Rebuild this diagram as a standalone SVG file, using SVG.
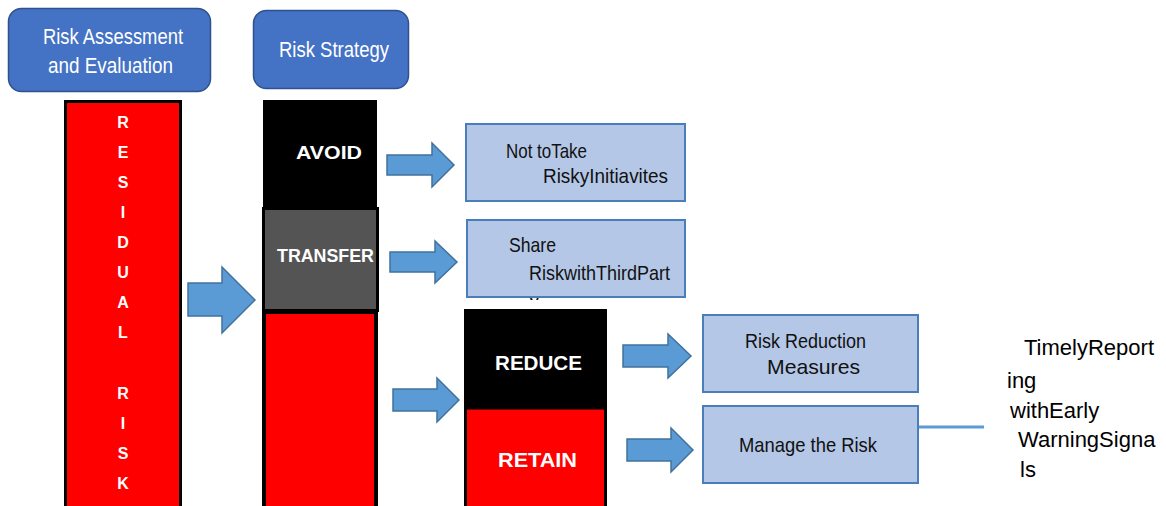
<svg xmlns="http://www.w3.org/2000/svg" width="1166" height="506" viewBox="0 0 1166 506">
<style>
.hdr{fill:#4472C4;stroke:#2F528F;stroke-width:1.5}
.hdrt{fill:#fff;font-family:"Liberation Sans Narrow","Liberation Sans",Arial,sans-serif;font-size:22px}
.lt{fill:#B4C7E7;stroke:#4A7EBB;stroke-width:2}
.ltt{fill:#111;font-family:"Liberation Sans Narrow","Liberation Sans",Arial,sans-serif;font-size:21px}
.bw{fill:#fff;font-family:"Liberation Sans",Arial,sans-serif;font-weight:bold}
.arr{fill:#5B9BD5;stroke:#41719C;stroke-width:1.5;stroke-linejoin:miter}
.res{fill:#fff;font-family:"Liberation Sans",Arial,sans-serif;font-weight:bold;font-size:16px;text-anchor:middle}
.plain{fill:#000;font-family:"Liberation Sans",Arial,sans-serif;font-size:22px}
</style>
<defs>
<clipPath id="yclip"><rect x="515" y="295" width="40" height="5"/></clipPath>
</defs>
<rect width="1166" height="506" fill="#fff"/>

<g id="hdr-assess">
<rect class="hdr" x="8.5" y="8.5" width="202" height="83" rx="13"/>
<text class="hdrt" x="43" y="44" textLength="140" lengthAdjust="spacingAndGlyphs">Risk Assessment</text>
<text class="hdrt" x="48" y="73" textLength="125" lengthAdjust="spacingAndGlyphs">and Evaluation</text>
</g>

<g id="hdr-strategy">
<rect class="hdr" x="253.5" y="10.5" width="155" height="78" rx="13"/>
<text class="hdrt" x="279" y="57" textLength="110" lengthAdjust="spacingAndGlyphs">Risk Strategy</text>
</g>

<g id="residual-risk">
<rect x="65.5" y="101.5" width="115" height="420" fill="#FF0000" stroke="#000" stroke-width="3"/>
<text class="res" x="123" y="128">R</text>
<text class="res" x="123" y="158">E</text>
<text class="res" x="123" y="188">S</text>
<text class="res" x="123" y="218">I</text>
<text class="res" x="123" y="248">D</text>
<text class="res" x="123" y="278">U</text>
<text class="res" x="123" y="308">A</text>
<text class="res" x="123" y="338">L</text>
<text class="res" x="123" y="399">R</text>
<text class="res" x="123" y="429">I</text>
<text class="res" x="123" y="459">S</text>
<text class="res" x="123" y="489">K</text>
</g>

<g id="avoid">
<rect x="263" y="100" width="114" height="108" fill="#000"/>
<text class="bw" x="296" y="159" font-size="19" textLength="66" lengthAdjust="spacingAndGlyphs">AVOID</text>
</g>

<g id="transfer">
<rect x="263.5" y="208.5" width="114" height="102" fill="#545454" stroke="#000" stroke-width="3"/>
<text class="bw" x="277" y="262" font-size="19" textLength="97" lengthAdjust="spacingAndGlyphs">TRANSFER</text>
</g>

<g id="strategy-rest">
<rect x="264" y="312" width="112" height="200" fill="#FF0000" stroke="#000" stroke-width="4"/>
</g>

<g id="not-to-take">
<rect class="lt" x="466" y="124" width="219" height="77"/>
<text class="ltt" x="506" y="158" textLength="81" lengthAdjust="spacingAndGlyphs">Not toTake</text>
<text class="ltt" x="543" y="183" textLength="125" lengthAdjust="spacingAndGlyphs">RiskyInitiavites</text>
</g>

<g id="share">
<text class="ltt" x="529" y="307" clip-path="url(#yclip)">y</text>
<rect class="lt" x="467" y="220" width="218" height="77"/>
<text class="ltt" x="509" y="252" textLength="47" lengthAdjust="spacingAndGlyphs">Share</text>
<text class="ltt" x="529" y="280" textLength="141" lengthAdjust="spacingAndGlyphs">RiskwithThirdPart</text>
</g>

<g id="reduce">
<rect x="464" y="309" width="143" height="100" fill="#000"/>
<text class="bw" x="495" y="370" font-size="21" textLength="87" lengthAdjust="spacingAndGlyphs">REDUCE</text>
</g>

<g id="retain">
<rect x="465.5" y="408" width="140" height="110" fill="#FF0000" stroke="#000" stroke-width="3"/>
<text class="bw" x="498" y="467" font-size="21" textLength="79" lengthAdjust="spacingAndGlyphs">RETAIN</text>
</g>

<g id="risk-reduction">
<rect class="lt" x="703" y="315" width="215" height="77"/>
<text class="ltt" x="745" y="348" fill="#222" textLength="121" lengthAdjust="spacingAndGlyphs">Risk Reduction</text>
<text class="ltt" x="767" y="374" fill="#222" textLength="93" lengthAdjust="spacingAndGlyphs">Measures</text>
</g>

<g id="manage">
<rect class="lt" x="703" y="406" width="215" height="77"/>
<text class="ltt" x="739" y="452" fill="#333" textLength="138" lengthAdjust="spacingAndGlyphs">Manage the Risk</text>
</g>

<g id="timely">
<text class="plain" x="1024" y="355">TimelyReport</text>
<text class="plain" x="1007" y="388">ing</text>
<text class="plain" x="1010" y="418">withEarly</text>
<text class="plain" x="1018" y="447">WarningSigna</text>
<text class="plain" x="1020" y="477">ls</text>
</g>

<g id="connectors">
<polygon class="arr" points="188,283 222,283 222,267 255,300 222,333 222,316 188,316"/>
<polygon class="arr" points="387,155 432,155 432,143 454,165 432,187 432,175 387,175"/>
<polygon class="arr" points="390,252 435,252 435,241 457,262 435,283 435,272 390,272"/>
<polygon class="arr" points="393,389 437,389 437,378 459,400 437,422 437,411 393,411"/>
<polygon class="arr" points="623,345 668,345 668,334 691,356 668,378 668,367 623,367"/>
<polygon class="arr" points="627,439 671,439 671,428 693,450 671,472 671,461 627,461"/>
<line x1="919" y1="427" x2="984" y2="427" stroke="#5B9BD5" stroke-width="3"/>
</g>
</svg>
